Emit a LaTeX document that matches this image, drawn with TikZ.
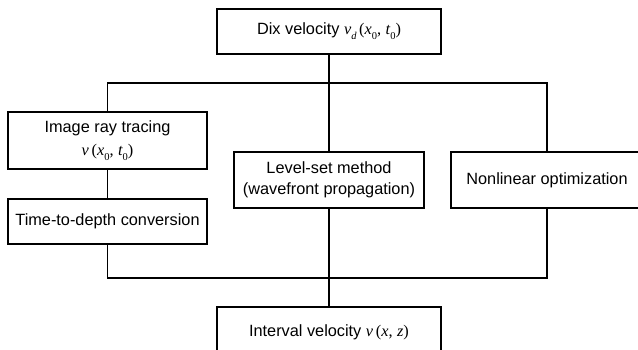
\documentclass[tikz,border=0pt]{standalone}
\usepackage{fontspec}
\setmainfont{Liberation Sans}
\newfontfamily\tms{Liberation Serif}
% italic Times-style symbols with lowered subscripts
\newcommand{\iv}[1]{{\tms\itshape #1}}
\newcommand{\sbs}[1]{\raisebox{-0.55ex}{\fontsize{10.5}{10.5}\selectfont\tms #1}}
\newcommand{\sbi}[1]{\raisebox{-0.55ex}{\fontsize{10.5}{10.5}\selectfont\tms\itshape #1}}
\begin{document}
\begin{tikzpicture}[x=1pt,y=1pt,
  box/.style={draw=black,line width=1.2pt,rectangle,inner sep=0pt,align=center,
    font=\fontsize{16.3}{20.5}\selectfont},
  link/.style={draw=black,line width=1.2pt}]
\useasboundingbox (0,0) rectangle (638,350);
\clip (0,0) rectangle (638,350);

\node[box,minimum width=224,minimum height=45] (dix) at (329,318.5)
  {Dix velocity \iv{v}\sbi{d}\,{\tms(}\iv{x}\sbs{0}{\tms,} \iv{t}\sbs{0}{\tms)}};
\node[box,minimum width=199,minimum height=57] (irt) at (107.5,209.5)
  {Image ray tracing\\[3pt]\iv{v}\,{\tms(}\iv{x}\sbs{0}{\tms,} \iv{t}\sbs{0}{\tms)}};
\node[box,minimum width=199,minimum height=45] (tdc) at (107.5,128.5)
  {Time-to-depth conversion};
\node[box,minimum width=190,minimum height=56] (lsm) at (329,170)
  {Level-set method\\(wavefront propagation)};
\node[box,minimum width=192,minimum height=56] (nlo) at (547,170)
  {Nonlinear optimization};
\node[box,minimum width=224,minimum height=50] (ivl) at (329,18)
  {Interval velocity \iv{v}\,{\tms(}\iv{x}{\tms,} \iv{z}{\tms)}};

\coordinate (jt) at (329,267);
\coordinate (jb) at (329,72);

\draw[link] (dix.south) -- (jt);
\draw[link] (irt.north) |- (jt) -| (nlo.north);
\draw[link] (jt) -- (lsm.north);
\draw[link] (irt.south) -- (tdc.north);
\draw[link] (tdc.south) |- (jb) -| (nlo.south);
\draw[link] (lsm.south) -- (jb) -- (ivl.north);
\end{tikzpicture}
\end{document}
